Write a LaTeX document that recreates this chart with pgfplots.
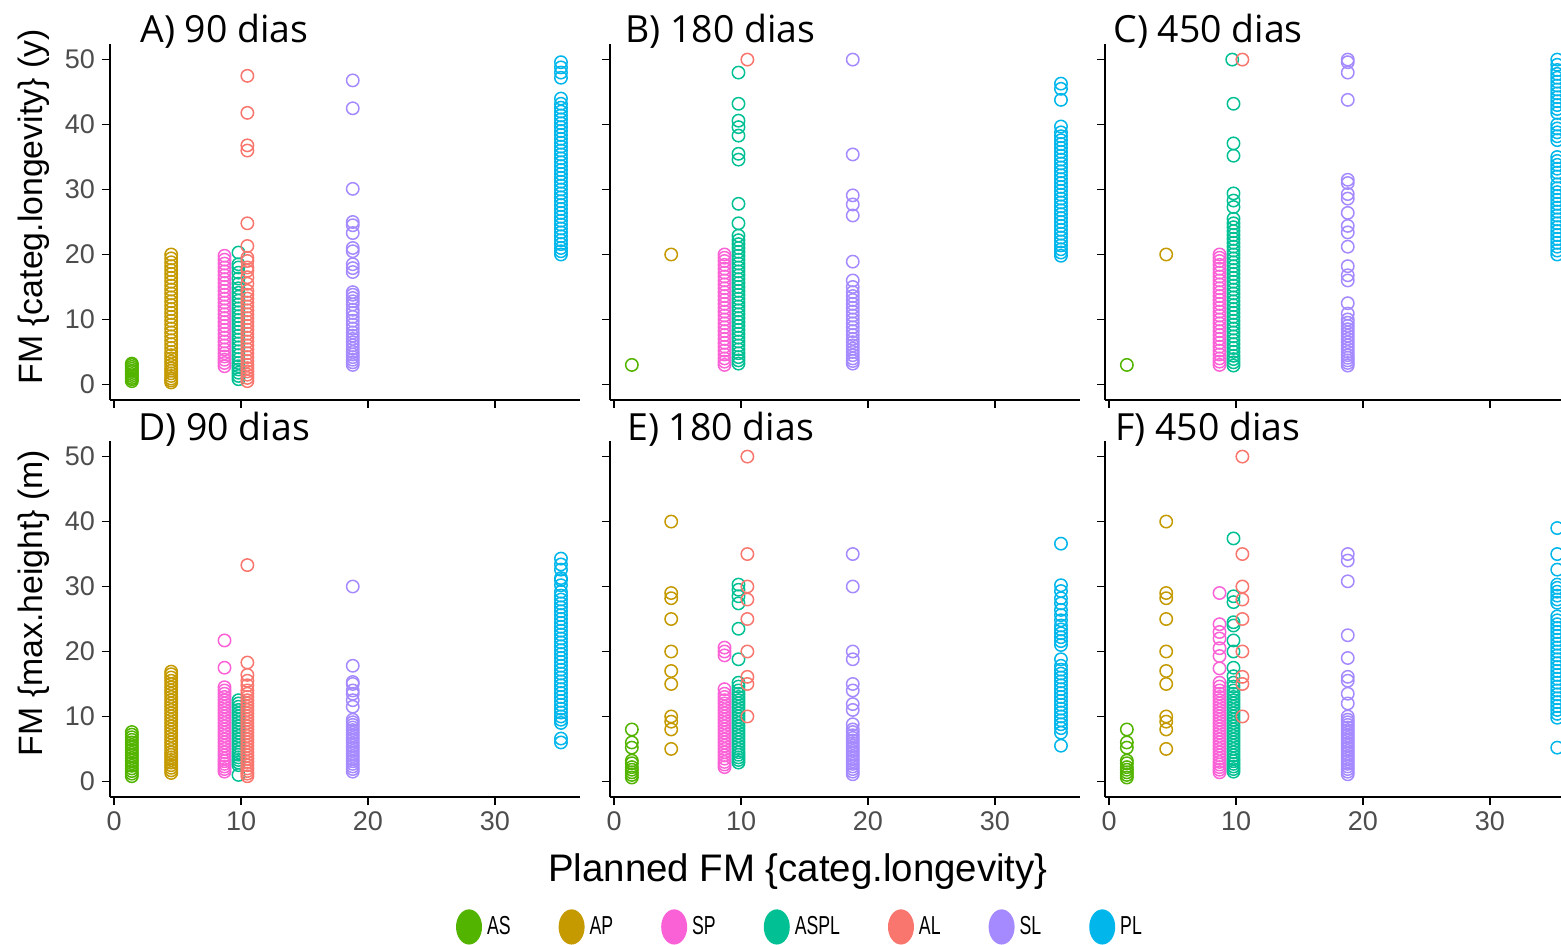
\documentclass[border=0pt]{standalone}
\usepackage{fontspec}
\setmainfont{Liberation Sans}
\newfontfamily\titlefont{Open Sans}
\usepackage{graphicx}
\usepackage{pgfplots}
\pgfplotsset{compat=1.18}
\definecolor{cAS}{HTML}{53B400}
\definecolor{cAP}{HTML}{C49A00}
\definecolor{cSP}{HTML}{FB61D7}
\definecolor{cASPL}{HTML}{00C094}
\definecolor{cAL}{HTML}{F8766D}
\definecolor{cSL}{HTML}{A58AFF}
\definecolor{cPL}{HTML}{00B6EB}
\definecolor{tickgray}{HTML}{4D4D4D}
\pgfplotsset{
  panel/.style={
    scale only axis, width=235pt, height=178pt,
    xmin=-0.32, xmax=36.7, ymin=-2.4, ymax=52.4,
    axis x line*=bottom, axis y line*=left,
    axis line style={-, line width=1.4pt, black},
    xtick={0,10,20,30}, ytick={0,10,20,30,40,50},
    tick align=outside, major tick length=4pt,
    tick style={black, line width=0.9pt},
    tick label style={font=\fontsize{13.5pt}{14pt}\selectfont, text=tickgray},
    /pgf/number format/assume math mode=true,
    clip=false,
    title style={at={(0,1)}, anchor=base west, inner sep=0pt, yshift=-5.5pt,
      font=\titlefont\fontsize{18.7pt}{19pt}\selectfont},
  },
  pt/.style={only marks, mark=o, mark size=3.1pt, mark options={solid, line width=0.75pt}, color=#1},
}
\begin{document}
\begin{tikzpicture}
\path[use as bounding box] (0,0) rectangle (780.5pt,472pt);
\clip (0,0) rectangle (780.5pt,472pt);
% ---------------- A ----------------
\begin{axis}[panel, at={(55pt,272pt)}, anchor=south west, xticklabels={},
  title={A) 90 dias}, title style={xshift=15pt}]
\addplot[pt=cAS] coordinates {(1.4,0.5)(1.4,0.8)(1.4,1.0)(1.4,1.3)(1.4,1.6)(1.4,1.9)(1.4,2.1)(1.4,2.4)(1.4,2.7)(1.4,3.0)(1.4,3.2)};
\addplot[pt=cAP] coordinates {(4.5,0.3)(4.5,0.6)(4.5,0.9)(4.5,1.3)(4.5,1.7)(4.5,2.1)(4.5,2.5)(4.5,3.0)(4.5,3.5)(4.5,4.0)(4.5,4.5)(4.5,5.0)(4.5,5.6)(4.5,6.2)(4.5,6.8)(4.5,7.4)(4.5,8.0)(4.5,8.6)(4.5,9.2)(4.5,9.8)(4.5,10.4)(4.5,11.0)(4.5,11.6)(4.5,12.2)(4.5,12.8)(4.5,13.4)(4.5,14.0)(4.5,14.6)(4.5,15.2)(4.5,15.8)(4.5,16.4)(4.5,17.0)(4.5,17.6)(4.5,18.2)(4.5,18.8)(4.5,19.4)(4.5,20.0)};
\addplot[pt=cSP] coordinates {(8.7,2.8)(8.7,3.3)(8.7,3.8)(8.7,4.3)(8.7,4.8)(8.7,5.4)(8.7,6.0)(8.7,6.6)(8.7,7.2)(8.7,7.8)(8.7,8.4)(8.7,9.0)(8.7,9.6)(8.7,10.2)(8.7,10.8)(8.7,11.4)(8.7,12.0)(8.7,12.6)(8.7,13.2)(8.7,13.8)(8.7,14.4)(8.7,15.0)(8.7,15.6)(8.7,16.2)(8.7,16.8)(8.7,17.4)(8.7,18.0)(8.7,18.6)(8.7,19.2)(8.7,19.8)};
\addplot[pt=cASPL] coordinates {(9.8,0.8)(9.8,1.3)(9.8,1.8)(9.8,2.3)(9.8,2.8)(9.8,3.3)(9.8,3.9)(9.8,4.5)(9.8,5.1)(9.8,5.7)(9.8,6.3)(9.8,6.9)(9.8,7.5)(9.8,8.1)(9.8,8.7)(9.8,9.3)(9.8,9.9)(9.8,10.5)(9.8,11.1)(9.8,11.7)(9.8,12.3)(9.8,12.9)(9.8,13.5)(9.8,14.1)(9.8,14.8)(9.8,15.5)(9.8,16.3)(9.8,17.2)(9.8,18.0)(9.8,18.5)(9.8,20.3)};
\addplot[pt=cAL] coordinates {(10.5,0.5)(10.5,1.0)(10.5,1.5)(10.5,2.0)(10.5,2.5)(10.5,3.0)(10.5,3.6)(10.5,4.2)(10.5,4.8)(10.5,5.4)(10.5,6.0)(10.5,6.6)(10.5,7.2)(10.5,7.8)(10.5,8.4)(10.5,9.0)(10.5,9.6)(10.5,10.2)(10.5,10.8)(10.5,11.4)(10.5,12.0)(10.5,12.6)(10.5,13.2)(10.5,13.8)(10.5,14.4)(10.5,15.5)(10.5,16.5)(10.5,17.5)(10.5,18.0)(10.5,19.0)(10.5,19.5)(10.5,21.3)(10.5,24.8)(10.5,36.0)(10.5,36.8)(10.5,41.8)(10.5,47.5)};
\addplot[pt=cSL] coordinates {(18.8,3.0)(18.8,3.4)(18.8,3.8)(18.8,4.2)(18.8,4.6)(18.8,5.0)(18.8,5.5)(18.8,6.0)(18.8,6.5)(18.8,7.0)(18.8,7.5)(18.8,8.0)(18.8,8.6)(18.8,9.2)(18.8,9.8)(18.8,10.4)(18.8,11.0)(18.8,11.5)(18.8,12.3)(18.8,12.8)(18.8,13.3)(18.8,13.8)(18.8,14.2)(18.8,17.3)(18.8,17.9)(18.8,18.5)(18.8,20.5)(18.8,21.0)(18.8,23.3)(18.8,24.5)(18.8,25.0)(18.8,30.1)(18.8,42.5)(18.8,46.8)};
\addplot[pt=cPL] coordinates {(35.2,20.0)(35.2,20.5)(35.2,21.0)(35.2,21.6)(35.2,22.2)(35.2,22.8)(35.2,23.4)(35.2,24.0)(35.2,24.6)(35.2,25.2)(35.2,25.8)(35.2,26.4)(35.2,27.0)(35.2,27.6)(35.2,28.2)(35.2,28.8)(35.2,29.4)(35.2,30.0)(35.2,30.6)(35.2,31.2)(35.2,31.8)(35.2,32.4)(35.2,33.0)(35.2,33.6)(35.2,34.2)(35.2,34.8)(35.2,35.4)(35.2,36.0)(35.2,36.6)(35.2,37.2)(35.2,37.8)(35.2,38.4)(35.2,39.0)(35.2,39.6)(35.2,40.2)(35.2,40.8)(35.2,41.4)(35.2,42.0)(35.2,42.6)(35.2,43.2)(35.2,44.0)(35.2,47.2)(35.2,48.0)(35.2,48.8)(35.2,49.6)};
\end{axis}
% ---------------- B ----------------
\begin{axis}[panel, at={(305pt,272pt)}, anchor=south west, xticklabels={}, yticklabels={},
  title={B) 180 dias}, title style={xshift=7.5pt}]
\addplot[pt=cAS] coordinates {(1.4,3.0)};
\addplot[pt=cAP] coordinates {(4.5,20.0)};
\addplot[pt=cSP] coordinates {(8.7,3.0)(8.7,3.5)(8.7,4.0)(8.7,4.6)(8.7,5.2)(8.7,5.8)(8.7,6.4)(8.7,7.0)(8.7,7.6)(8.7,8.2)(8.7,8.8)(8.7,9.4)(8.7,10.0)(8.7,10.6)(8.7,11.2)(8.7,11.8)(8.7,12.4)(8.7,13.0)(8.7,13.6)(8.7,14.2)(8.7,14.8)(8.7,15.4)(8.7,16.0)(8.7,16.6)(8.7,17.2)(8.7,17.8)(8.7,18.4)(8.7,19.0)(8.7,19.5)(8.7,20.0)};
\addplot[pt=cASPL] coordinates {(9.8,3.2)(9.8,3.7)(9.8,4.2)(9.8,4.8)(9.8,5.4)(9.8,6.0)(9.8,6.6)(9.8,7.2)(9.8,7.8)(9.8,8.4)(9.8,9.0)(9.8,9.6)(9.8,10.2)(9.8,10.8)(9.8,11.4)(9.8,12.0)(9.8,12.6)(9.8,13.2)(9.8,13.8)(9.8,14.4)(9.8,15.0)(9.8,15.6)(9.8,16.2)(9.8,16.8)(9.8,17.4)(9.8,18.0)(9.8,18.6)(9.8,19.2)(9.8,19.8)(9.8,20.4)(9.8,21.0)(9.8,21.6)(9.8,22.2)(9.8,22.9)(9.8,24.8)(9.8,27.8)(9.8,34.6)(9.8,35.5)(9.8,38.3)(9.8,39.6)(9.8,40.6)(9.8,43.2)(9.8,48.0)};
\addplot[pt=cAL] coordinates {(10.5,50.0)};
\addplot[pt=cSL] coordinates {(18.8,3.2)(18.8,3.6)(18.8,4.0)(18.8,4.5)(18.8,5.0)(18.8,5.5)(18.8,6.0)(18.8,6.5)(18.8,7.0)(18.8,7.6)(18.8,8.2)(18.8,8.8)(18.8,9.4)(18.8,10.0)(18.8,10.6)(18.8,11.2)(18.8,11.8)(18.8,12.4)(18.8,13.0)(18.8,13.6)(18.8,14.2)(18.8,15.0)(18.8,16.0)(18.8,18.9)(18.8,26.0)(18.8,27.7)(18.8,29.1)(18.8,35.4)(18.8,50.0)};
\addplot[pt=cPL] coordinates {(35.2,19.8)(35.2,20.3)(35.2,20.8)(35.2,21.4)(35.2,22.0)(35.2,22.6)(35.2,23.2)(35.2,23.8)(35.2,24.4)(35.2,25.0)(35.2,25.6)(35.2,26.2)(35.2,26.8)(35.2,27.4)(35.2,28.0)(35.2,28.6)(35.2,29.2)(35.2,29.8)(35.2,30.4)(35.2,31.0)(35.2,31.6)(35.2,32.2)(35.2,32.8)(35.2,33.4)(35.2,34.0)(35.2,34.6)(35.2,35.2)(35.2,35.8)(35.2,36.4)(35.2,37.0)(35.2,37.6)(35.2,38.2)(35.2,38.8)(35.2,39.7)(35.2,43.8)(35.2,45.5)(35.2,46.3)};
\end{axis}
% ---------------- C ----------------
\begin{axis}[panel, at={(552.5pt,272pt)}, anchor=south west, xticklabels={}, yticklabels={},
  title={C) 450 dias}, title style={xshift=4pt}]
\addplot[pt=cAS] coordinates {(1.4,3.0)};
\addplot[pt=cAP] coordinates {(4.5,20.0)};
\addplot[pt=cSP] coordinates {(8.7,3.0)(8.7,3.5)(8.7,4.0)(8.7,4.6)(8.7,5.2)(8.7,5.8)(8.7,6.4)(8.7,7.0)(8.7,7.6)(8.7,8.2)(8.7,8.8)(8.7,9.4)(8.7,10.0)(8.7,10.6)(8.7,11.2)(8.7,11.8)(8.7,12.4)(8.7,13.0)(8.7,13.6)(8.7,14.2)(8.7,14.8)(8.7,15.4)(8.7,16.0)(8.7,16.6)(8.7,17.2)(8.7,17.8)(8.7,18.4)(8.7,19.0)(8.7,19.5)(8.7,20.0)};
\addplot[pt=cASPL] coordinates {(9.8,2.9)(9.8,3.4)(9.8,3.9)(9.8,4.4)(9.8,5.0)(9.8,5.6)(9.8,6.2)(9.8,6.8)(9.8,7.4)(9.8,8.0)(9.8,8.6)(9.8,9.2)(9.8,9.8)(9.8,10.4)(9.8,11.0)(9.8,11.6)(9.8,12.2)(9.8,12.8)(9.8,13.4)(9.8,14.0)(9.8,14.6)(9.8,15.2)(9.8,15.8)(9.8,16.4)(9.8,17.0)(9.8,17.6)(9.8,18.2)(9.8,18.8)(9.8,19.4)(9.8,20.0)(9.8,20.6)(9.8,21.2)(9.8,21.8)(9.8,22.4)(9.8,23.0)(9.8,23.6)(9.8,24.2)(9.8,24.8)(9.8,25.5)(9.8,27.3)(9.8,28.3)(9.8,29.4)(9.8,35.2)(9.8,37.1)(9.8,43.2)(9.7,50.0)};
\addplot[pt=cAL] coordinates {(10.5,50.0)};
\addplot[pt=cSL] coordinates {(18.8,2.9)(18.8,3.3)(18.8,3.7)(18.8,4.1)(18.8,4.5)(18.8,5.0)(18.8,5.5)(18.8,6.0)(18.8,6.5)(18.8,7.0)(18.8,7.5)(18.8,8.0)(18.8,8.5)(18.8,9.0)(18.8,9.5)(18.8,10.0)(18.8,10.9)(18.8,12.5)(18.8,16.0)(18.8,16.8)(18.8,18.2)(18.8,21.2)(18.8,23.4)(18.8,24.4)(18.8,26.4)(18.8,28.6)(18.8,29.3)(18.8,31.0)(18.8,31.5)(18.8,43.8)(18.8,48.0)(18.8,49.6)(18.8,50.0)};
\addplot[pt=cPL] coordinates {(35.3,20.0)(35.3,20.6)(35.3,21.2)(35.3,21.8)(35.3,22.4)(35.3,23.0)(35.3,23.6)(35.3,24.2)(35.3,24.8)(35.3,25.4)(35.3,26.0)(35.3,26.6)(35.3,27.2)(35.3,27.8)(35.3,28.4)(35.3,29.0)(35.3,29.6)(35.3,30.2)(35.3,30.8)(35.3,32.0)(35.3,32.6)(35.3,33.2)(35.3,33.8)(35.3,34.4)(35.3,35.0)(35.3,37.6)(35.3,38.2)(35.3,38.8)(35.3,39.4)(35.3,40.0)(35.3,41.8)(35.3,42.4)(35.3,43.0)(35.3,43.6)(35.3,44.2)(35.3,44.8)(35.3,45.4)(35.3,46.0)(35.3,46.6)(35.3,47.2)(35.3,47.8)(35.3,48.4)(35.3,49.2)(35.3,50.0)};
\end{axis}
% ---------------- D ----------------
\begin{axis}[panel, at={(55pt,73.5pt)}, anchor=south west,
  title={D) 90 dias}, title style={xshift=14pt}]
\addplot[pt=cAS] coordinates {(1.4,0.8)(1.4,1.2)(1.4,1.6)(1.4,2.0)(1.4,2.4)(1.4,2.8)(1.4,3.2)(1.4,3.6)(1.4,4.0)(1.4,4.4)(1.4,4.8)(1.4,5.2)(1.4,5.6)(1.4,6.0)(1.4,6.4)(1.4,6.8)(1.4,7.2)(1.4,7.6)};
\addplot[pt=cAP] coordinates {(4.5,1.3)(4.5,1.7)(4.5,2.1)(4.5,2.5)(4.5,2.9)(4.5,3.3)(4.5,3.7)(4.5,4.1)(4.5,4.5)(4.5,5.0)(4.5,5.5)(4.5,6.0)(4.5,6.5)(4.5,7.0)(4.5,7.5)(4.5,8.0)(4.5,8.5)(4.5,9.0)(4.5,9.5)(4.5,10.0)(4.5,10.5)(4.5,11.0)(4.5,11.5)(4.5,12.0)(4.5,12.5)(4.5,13.0)(4.5,13.5)(4.5,14.0)(4.5,14.5)(4.5,15.0)(4.5,15.5)(4.5,16.0)(4.5,16.5)(4.5,16.9)};
\addplot[pt=cSP] coordinates {(8.7,1.5)(8.7,1.9)(8.7,2.3)(8.7,2.7)(8.7,3.1)(8.7,3.5)(8.7,4.0)(8.7,4.5)(8.7,5.0)(8.7,5.5)(8.7,6.0)(8.7,6.5)(8.7,7.0)(8.7,7.5)(8.7,8.0)(8.7,8.5)(8.7,9.0)(8.7,9.5)(8.7,10.0)(8.7,10.5)(8.7,11.0)(8.7,11.5)(8.7,12.0)(8.7,12.5)(8.7,13.0)(8.7,13.5)(8.7,14.0)(8.7,14.5)(8.7,17.5)(8.7,21.7)};
\addplot[pt=cASPL] coordinates {(9.8,1.0)(9.8,2.5)(9.8,2.9)(9.8,3.3)(9.8,3.7)(9.8,4.1)(9.8,4.5)(9.8,5.0)(9.8,5.5)(9.8,6.0)(9.8,6.5)(9.8,7.0)(9.8,7.5)(9.8,8.0)(9.8,8.5)(9.8,9.0)(9.8,9.5)(9.8,10.0)(9.8,10.5)(9.8,11.0)(9.8,11.5)(9.8,12.0)(9.8,12.5)};
\addplot[pt=cAL] coordinates {(10.5,0.8)(10.5,1.2)(10.5,1.6)(10.5,2.0)(10.5,2.5)(10.5,3.0)(10.5,3.5)(10.5,4.0)(10.5,4.5)(10.5,5.0)(10.5,5.5)(10.5,6.0)(10.5,6.5)(10.5,7.0)(10.5,7.5)(10.5,8.0)(10.5,8.5)(10.5,9.0)(10.5,9.5)(10.5,10.0)(10.5,10.5)(10.5,11.0)(10.5,11.5)(10.5,12.0)(10.5,12.5)(10.5,13.0)(10.5,13.5)(10.5,14.0)(10.5,14.8)(10.5,15.5)(10.5,16.4)(10.5,18.3)(10.5,33.3)};
\addplot[pt=cSL] coordinates {(18.8,1.5)(18.8,1.9)(18.8,2.3)(18.8,2.7)(18.8,3.1)(18.8,3.5)(18.8,3.9)(18.8,4.3)(18.8,4.7)(18.8,5.1)(18.8,5.5)(18.8,5.9)(18.8,6.3)(18.8,6.7)(18.8,7.1)(18.8,7.5)(18.8,7.9)(18.8,8.3)(18.8,8.7)(18.8,9.1)(18.8,9.5)(18.8,11.5)(18.8,12.5)(18.8,13.5)(18.8,14.0)(18.8,15.0)(18.8,15.3)(18.8,17.8)(18.8,30.0)};
\addplot[pt=cPL] coordinates {(35.2,6.0)(35.2,6.6)(35.2,9.0)(35.2,9.5)(35.2,10.0)(35.2,10.6)(35.2,11.2)(35.2,11.8)(35.2,12.4)(35.2,13.0)(35.2,13.6)(35.2,14.2)(35.2,14.8)(35.2,15.4)(35.2,16.0)(35.2,16.6)(35.2,17.2)(35.2,17.8)(35.2,18.4)(35.2,19.0)(35.2,19.6)(35.2,20.2)(35.2,20.8)(35.2,21.4)(35.2,22.0)(35.2,22.6)(35.2,23.2)(35.2,23.8)(35.2,24.4)(35.2,25.0)(35.2,25.6)(35.2,26.2)(35.2,26.8)(35.2,27.4)(35.2,28.0)(35.2,28.6)(35.2,29.2)(35.2,30.2)(35.2,31.0)(35.2,31.3)(35.2,32.6)(35.2,33.4)(35.2,34.3)};
\end{axis}
% ---------------- E ----------------
\begin{axis}[panel, at={(305pt,73.5pt)}, anchor=south west, yticklabels={},
  title={E) 180 dias}, title style={xshift=8.5pt},
  legend columns=7,
  legend image code/.code={\fill[#1] (6.5pt,0pt) ellipse [x radius=6.5pt, y radius=8.8pt];},
  legend style={at={(0.402,-0.365)}, anchor=center, draw=none, fill=none,
    font=\fontsize{13pt}{13.5pt}\selectfont, inner sep=0pt,
    nodes={inner sep=0pt, anchor=west},
    /tikz/every odd column/.append style={column sep=2.5pt},
    /tikz/every even column/.append style={column sep=24pt}}]
\addlegendimage{fill=cAS, draw=none}\addlegendentry{\scalebox{0.68}[1]{AS}}
\addlegendimage{fill=cAP, draw=none}\addlegendentry{\scalebox{0.68}[1]{AP}}
\addlegendimage{fill=cSP, draw=none}\addlegendentry{\scalebox{0.68}[1]{SP}}
\addlegendimage{fill=cASPL, draw=none}\addlegendentry{\scalebox{0.68}[1]{ASPL}}
\addlegendimage{fill=cAL, draw=none}\addlegendentry{\scalebox{0.68}[1]{AL}}
\addlegendimage{fill=cSL, draw=none}\addlegendentry{\scalebox{0.68}[1]{SL}}
\addlegendimage{fill=cPL, draw=none}\addlegendentry{\scalebox{0.68}[1]{PL}}
\addplot[pt=cAS, forget plot] coordinates {(1.4,0.6)(1.4,1.0)(1.4,1.4)(1.4,1.8)(1.4,2.2)(1.4,2.8)(1.4,3.2)(1.4,5.2)(1.4,6.0)(1.4,8.0)};
\addplot[pt=cAP, forget plot] coordinates {(4.5,5.0)(4.5,8.0)(4.5,9.2)(4.5,10.0)(4.5,15.0)(4.5,17.0)(4.5,20.0)(4.5,25.0)(4.5,28.2)(4.5,29.0)(4.5,40.0)};
\addplot[pt=cSP, forget plot] coordinates {(8.7,2.2)(8.7,2.6)(8.7,3.0)(8.7,3.5)(8.7,4.0)(8.7,4.5)(8.7,5.0)(8.7,5.5)(8.7,6.0)(8.7,6.5)(8.7,7.0)(8.7,7.5)(8.7,8.0)(8.7,8.5)(8.7,9.0)(8.7,9.5)(8.7,10.0)(8.7,10.5)(8.7,11.0)(8.7,11.5)(8.7,12.0)(8.7,12.5)(8.7,13.0)(8.7,13.5)(8.7,14.2)(8.7,19.4)(8.7,20.0)(8.7,20.6)};
\addplot[pt=cASPL, forget plot] coordinates {(9.8,2.9)(9.8,3.3)(9.8,3.7)(9.8,4.1)(9.8,4.5)(9.8,5.0)(9.8,5.5)(9.8,6.0)(9.8,6.5)(9.8,7.0)(9.8,7.5)(9.8,8.0)(9.8,8.5)(9.8,9.0)(9.8,9.5)(9.8,10.0)(9.8,10.5)(9.8,11.0)(9.8,11.5)(9.8,12.0)(9.8,12.5)(9.8,13.0)(9.8,13.5)(9.8,14.0)(9.8,14.6)(9.8,15.2)(9.8,18.8)(9.8,23.5)(9.8,27.4)(9.8,28.5)(9.8,29.5)(9.8,30.3)};
\addplot[pt=cAL, forget plot] coordinates {(10.5,10.0)(10.5,15.0)(10.5,16.1)(10.5,20.0)(10.5,25.0)(10.5,28.0)(10.5,30.0)(10.5,35.0)(10.5,50.0)};
\addplot[pt=cSL, forget plot] coordinates {(18.8,1.1)(18.8,1.5)(18.8,1.9)(18.8,2.3)(18.8,2.7)(18.8,3.1)(18.8,3.5)(18.8,3.9)(18.8,4.3)(18.8,4.7)(18.8,5.1)(18.8,5.5)(18.8,5.9)(18.8,6.3)(18.8,6.7)(18.8,7.1)(18.8,7.6)(18.8,8.0)(18.8,8.8)(18.8,11.0)(18.8,11.9)(18.8,14.0)(18.8,15.0)(18.8,18.8)(18.8,20.0)(18.8,30.0)(18.8,35.0)};
\addplot[pt=cPL, forget plot] coordinates {(35.2,5.5)(35.2,7.5)(35.2,8.2)(35.2,8.8)(35.2,9.4)(35.2,10.0)(35.2,10.6)(35.2,11.2)(35.2,11.8)(35.2,12.4)(35.2,13.0)(35.2,13.6)(35.2,14.2)(35.2,14.8)(35.2,15.4)(35.2,16.0)(35.2,16.6)(35.2,17.2)(35.2,17.8)(35.2,18.8)(35.2,21.0)(35.2,21.6)(35.2,22.2)(35.2,22.8)(35.2,23.4)(35.2,24.0)(35.2,24.8)(35.2,25.6)(35.2,26.4)(35.2,27.4)(35.2,28.2)(35.2,29.3)(35.2,30.2)(35.2,36.6)};
\end{axis}
% ---------------- F ----------------
\begin{axis}[panel, at={(552.5pt,73.5pt)}, anchor=south west, yticklabels={},
  title={F) 450 dias}, title style={xshift=5pt}]
\addplot[pt=cAS] coordinates {(1.4,0.6)(1.4,1.0)(1.4,1.4)(1.4,1.8)(1.4,2.2)(1.4,2.8)(1.4,3.2)(1.4,5.2)(1.4,6.0)(1.4,8.0)};
\addplot[pt=cAP] coordinates {(4.5,5.0)(4.5,8.0)(4.5,9.2)(4.5,10.0)(4.5,15.0)(4.5,17.0)(4.5,20.0)(4.5,25.0)(4.5,28.2)(4.5,29.0)(4.5,40.0)};
\addplot[pt=cSP] coordinates {(8.7,1.4)(8.7,1.8)(8.7,2.2)(8.7,2.6)(8.7,3.0)(8.7,3.5)(8.7,4.0)(8.7,4.5)(8.7,5.0)(8.7,5.5)(8.7,6.0)(8.7,6.5)(8.7,7.0)(8.7,7.5)(8.7,8.0)(8.7,8.5)(8.7,9.0)(8.7,9.5)(8.7,10.0)(8.7,10.5)(8.7,11.0)(8.7,11.5)(8.7,12.0)(8.7,12.5)(8.7,13.0)(8.7,13.5)(8.7,14.0)(8.7,14.6)(8.7,15.2)(8.7,17.4)(8.7,19.3)(8.7,20.5)(8.7,22.0)(8.7,23.0)(8.7,24.2)(8.7,29.0)};
\addplot[pt=cASPL] coordinates {(9.8,1.5)(9.8,1.9)(9.8,2.3)(9.8,2.7)(9.8,3.1)(9.8,3.5)(9.8,4.0)(9.8,4.5)(9.8,5.0)(9.8,5.5)(9.8,6.0)(9.8,6.5)(9.8,7.0)(9.8,7.5)(9.8,8.0)(9.8,8.5)(9.8,9.0)(9.8,9.5)(9.8,10.0)(9.8,10.5)(9.8,11.0)(9.8,11.5)(9.8,12.0)(9.8,12.5)(9.8,13.0)(9.8,13.5)(9.8,14.0)(9.8,14.6)(9.8,15.2)(9.8,16.2)(9.8,17.5)(9.8,20.0)(9.8,21.7)(9.8,24.0)(9.8,24.5)(9.8,27.6)(9.8,28.5)(9.8,37.4)};
\addplot[pt=cAL] coordinates {(10.5,10.0)(10.5,15.0)(10.5,16.1)(10.5,20.0)(10.5,25.0)(10.5,28.0)(10.5,30.0)(10.5,35.0)(10.5,50.0)};
\addplot[pt=cSL] coordinates {(18.8,1.1)(18.8,1.5)(18.8,1.9)(18.8,2.3)(18.8,2.7)(18.8,3.1)(18.8,3.5)(18.8,3.9)(18.8,4.3)(18.8,4.7)(18.8,5.1)(18.8,5.5)(18.8,5.9)(18.8,6.3)(18.8,6.7)(18.8,7.1)(18.8,7.5)(18.8,7.9)(18.8,8.3)(18.8,8.7)(18.8,9.1)(18.8,9.5)(18.8,10.0)(18.8,12.0)(18.8,13.5)(18.8,15.5)(18.8,16.1)(18.8,19.0)(18.8,22.5)(18.8,30.8)(18.8,34.0)(18.8,35.0)};
\addplot[pt=cPL] coordinates {(35.3,5.2)(35.3,9.8)(35.3,10.4)(35.3,11.0)(35.3,11.6)(35.3,12.2)(35.3,12.8)(35.3,13.4)(35.3,14.0)(35.3,14.6)(35.3,15.2)(35.3,15.8)(35.3,16.4)(35.3,17.0)(35.3,17.6)(35.3,18.2)(35.3,18.8)(35.3,19.4)(35.3,20.0)(35.3,20.6)(35.3,21.2)(35.3,21.8)(35.3,22.4)(35.3,23.0)(35.3,23.6)(35.3,24.2)(35.3,24.8)(35.3,25.4)(35.3,27.5)(35.3,28.0)(35.3,28.6)(35.3,29.2)(35.3,29.8)(35.3,30.3)(35.3,32.6)(35.3,35.0)(35.3,39.0)};
\end{axis}
% ---------------- labels ----------------
\node[rotate=90, anchor=center, font=\fontsize{16.9pt}{17pt}\selectfont] at (17pt,368.5pt) {FM \{categ.longevity\} (y)};
\node[rotate=90, anchor=center, font=\fontsize{16.9pt}{17pt}\selectfont] at (17pt,170.5pt) {FM \{max.height\} (m)};
\node[anchor=base, font=\fontsize{19.2pt}{20pt}\selectfont] at (399pt,31.5pt) {Planned FM \{categ.longevity\}};
\end{tikzpicture}
\end{document}
